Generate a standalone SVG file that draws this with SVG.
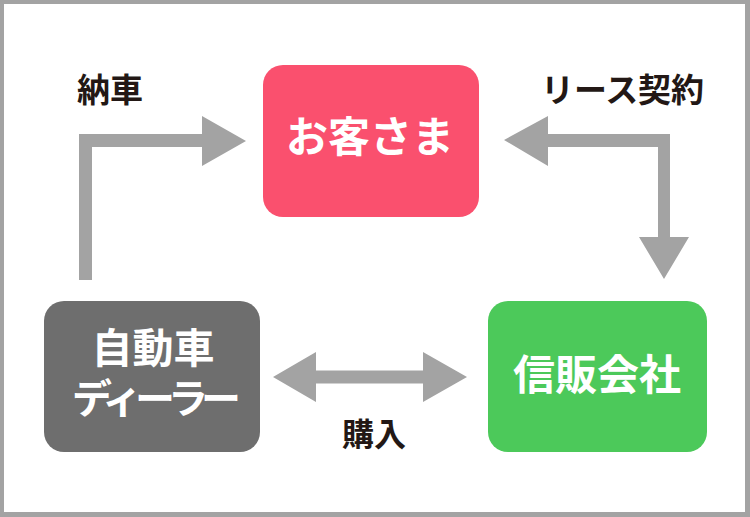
<svg xmlns="http://www.w3.org/2000/svg" width="750" height="517" viewBox="0 0 750 517">
<style>
.frame{fill:#a3a3a3}
.bg{fill:#ffffff}
.arrow{fill:#a3a3a3}
.node-text{fill:#ffffff;font-family:"Noto Sans CJK JP","Noto Sans CJK SC",sans-serif;font-weight:bold;text-anchor:middle}
.label{fill:#231815;font-family:"Noto Sans CJK JP","Noto Sans CJK SC",sans-serif;font-weight:bold}
</style>
<rect class="frame" x="0" y="0" width="750" height="517"/>
<rect class="bg" x="4" y="4" width="741" height="508"/>
<g id="connectors">
<polygon class="arrow" points="79,280 79,134 202,134 202,116 246,141 202,166 202,147 92,147 92,280"/>
<polygon class="arrow" points="504,140 548,116 548,134 670,134 670,237 689,237 664,279 639,237 658,237 658,147 548,147 548,166"/>
<polygon class="arrow" points="273,377 316,352 316,370.5 423,370.5 423,352 467,377 423,402 423,383.5 316,383.5 316,402"/>
<text class="label" x="77" y="102" font-size="33">納車</text>
<text class="label" x="541" y="102" font-size="33" textLength="163" lengthAdjust="spacing">リース契約</text>
<text class="label" x="374" y="446" font-size="32" text-anchor="middle">購入</text>
</g>
<g id="customer">
<rect x="263" y="65" width="216" height="152" rx="20" fill="#fa506e"/>
<text class="node-text" x="370" y="152" font-size="42">お客さま</text>
</g>
<g id="dealer">
<rect x="44" y="301" width="216" height="151" rx="20" fill="#6e6e6e"/>
<text class="node-text" font-size="40"><tspan x="153" y="363" font-size="41">自動車</tspan><tspan x="153" y="413" letter-spacing="-7">ディーラー</tspan></text>
</g>
<g id="leasing">
<rect x="488" y="301" width="219" height="151" rx="20" fill="#4cc95a"/>
<text class="node-text" x="597" y="390" font-size="42">信販会社</text>
</g>
</svg>
